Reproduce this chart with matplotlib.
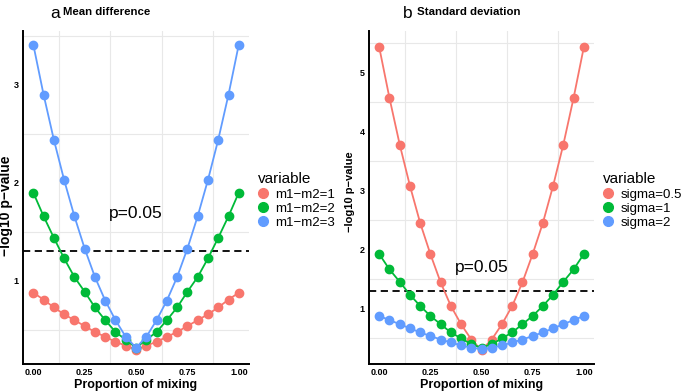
import numpy as np
import matplotlib.pyplot as plt
from matplotlib.lines import Line2D

plt.rcParams['font.family'] = ['Liberation Sans', 'DejaVu Sans']

# proportion of mixing
mix = [0.00, 0.05, 0.10, 0.15, 0.20, 0.25, 0.30, 0.35, 0.40, 0.45, 0.50,
       0.55, 0.60, 0.65, 0.70, 0.75, 0.80, 0.85, 0.90, 0.95, 1.00]

# panel a: mean difference
md_labels = ['m1\u2212m2=1', 'm1\u2212m2=2', 'm1\u2212m2=3']
md1 = [0.88, 0.81, 0.73, 0.66, 0.60, 0.54, 0.48, 0.43, 0.38, 0.34, 0.30,
       0.34, 0.38, 0.43, 0.48, 0.54, 0.60, 0.66, 0.73, 0.81, 0.88]
md2 = [1.90, 1.66, 1.44, 1.23, 1.04, 0.89, 0.73, 0.60, 0.48, 0.40, 0.32,
       0.40, 0.48, 0.60, 0.73, 0.89, 1.04, 1.23, 1.44, 1.66, 1.90]
md3 = [3.41, 2.90, 2.44, 2.03, 1.66, 1.33, 1.04, 0.80, 0.60, 0.43, 0.32,
       0.43, 0.60, 0.80, 1.04, 1.33, 1.66, 2.03, 2.44, 2.90, 3.41]

# panel b: standard deviation
sd_labels = ['sigma=0.5', 'sigma=1', 'sigma=2']
sd05 = [5.43, 4.57, 3.78, 3.08, 2.45, 1.92, 1.44, 1.04, 0.73, 0.47, 0.29,
        0.47, 0.73, 1.04, 1.44, 1.92, 2.45, 3.08, 3.78, 4.57, 5.43]
sd1 = [1.92, 1.66, 1.45, 1.23, 1.04, 0.87, 0.73, 0.59, 0.49, 0.39, 0.33,
       0.39, 0.49, 0.59, 0.73, 0.87, 1.04, 1.23, 1.45, 1.66, 1.92]
sd2 = [0.87, 0.80, 0.73, 0.66, 0.59, 0.53, 0.47, 0.42, 0.37, 0.33, 0.31,
       0.33, 0.37, 0.42, 0.47, 0.53, 0.59, 0.66, 0.73, 0.80, 0.87]

threshold = -np.log10(0.05)
colors = ['#F8766D', '#00BA38', '#619CFF']

fig = plt.figure(figsize=(6.85, 3.92), dpi=100)
ax1 = fig.add_axes([0.0336, 0.0714, 0.330, 0.850])
ax2 = fig.add_axes([0.5387, 0.0714, 0.3285, 0.850])


def draw_panel(ax, series, labels, ylim, yticks, ygrid, ylab_size, ylab_xy):
    for vals, col in zip(series, colors):
        ax.plot(mix, vals, color=col, lw=1.3, marker='o', ms=6, mec=col, zorder=3)
    ax.axhline(threshold, color='black', ls=(0, (4, 2.5)), lw=1.3, zorder=2)
    ax.text(0.5, 1.69, 'p=0.05', fontsize=12.5, ha='center', va='center')
    ax.set_xlim(-0.05, 1.05)
    ax.set_ylim(*ylim)
    ax.set_xticks([0, 0.25, 0.5, 0.75, 1.0])
    ax.set_xticklabels(['0.00', '0.25', '0.50', '0.75', '1.00'])
    ax.set_yticks(yticks)
    ax.set_yticklabels([str(t) for t in yticks])
    for g in [0.125, 0.375, 0.625, 0.875]:
        ax.axvline(g, color='#e8e8e8', lw=0.8, zorder=0)
    for g in ygrid:
        ax.axhline(g, color='#e8e8e8', lw=0.8, zorder=0)
    for s in ['top', 'right']:
        ax.spines[s].set_visible(False)
    for s in ['left', 'bottom']:
        ax.spines[s].set_linewidth(1.4)
    ax.tick_params(length=0, pad=3, labelsize=6.5)
    for lab in ax.get_xticklabels() + ax.get_yticklabels():
        lab.set_fontweight('bold')
    ax.set_xlabel('Proportion of mixing', fontsize=9, fontweight='bold', labelpad=1)
    ax.set_ylabel('\u2212log10 p\u2212value', fontsize=ylab_size, fontweight='bold')
    ax.yaxis.set_label_coords(*ylab_xy)
    handles = [Line2D([], [], ls='none', marker='o', ms=7, color=c) for c in colors]
    leg = ax.legend(handles, labels, title='variable', loc='center left',
                    bbox_to_anchor=(1.04, 0.49), frameon=False, fontsize=9.5,
                    title_fontsize=11, handlelength=0.8, handletextpad=0.5,
                    labelspacing=0.15, borderaxespad=0, borderpad=0)
    leg._legend_box.align = 'left'


draw_panel(ax1, [md1, md2, md3], md_labels, (0.153, 3.55), [1, 2, 3],
           [0.5, 1.5, 2.5, 3.5], 10, (-0.045, 0.474))
draw_panel(ax2, [sd05, sd1, sd2], sd_labels, (0.054, 5.71), [1, 2, 3, 4, 5],
           [0.5, 1.5, 2.5, 3.5, 4.5, 5.5], 8, (-0.062, 0.517))

fig.text(50 / 685, 1 - 13 / 392, 'a', fontsize=12.5, va='center')
fig.text(63 / 685, 1 - 12 / 392, 'Mean difference', fontsize=8.2,
         fontweight='bold', va='center')
fig.text(403 / 685, 1 - 13 / 392, 'b', fontsize=12.5, va='center')
fig.text(417 / 685, 1 - 12 / 392, 'Standard deviation', fontsize=8.2,
         fontweight='bold', va='center')

fig.savefig('out.png', dpi=100)
